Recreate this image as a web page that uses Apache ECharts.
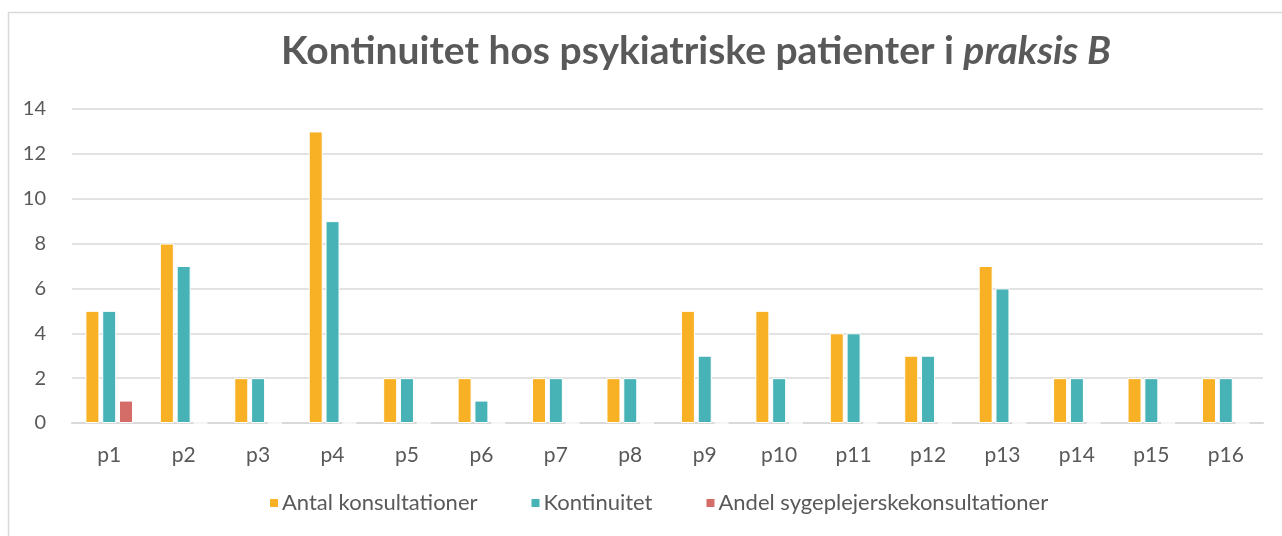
<!DOCTYPE html>
<html>
<head>
<meta charset="utf-8">
<script src="https://cdn.jsdelivr.net/npm/echarts@6/dist/echarts.min.js"></script>
<style>
    html, body { margin: 0; padding: 0; background: #ffffff; }
    #chart { width: 1282px; height: 536px; }
</style>
</head>
<body>
<div id="chart"></div>
<script>
// data
const categories = ['p1', 'p2', 'p3', 'p4', 'p5', 'p6', 'p7', 'p8', 'p9', 'p10', 'p11', 'p12', 'p13', 'p14', 'p15', 'p16'];
const antal = [5, 8, 2, 13, 2, 2, 2, 2, 5, 5, 4, 3, 7, 2, 2, 2];
const kontinuitet = [5, 7, 2, 9, 2, 1, 2, 2, 3, 2, 4, 3, 6, 2, 2, 2];
const andel = [1, 0, 0, 0, 0, 0, 0, 0, 0, 0, 0, 0, 0, 0, 0, 0];
const seriesNames = ['Antal konsultationer', 'Kontinuitet', 'Andel sygeplejerskekonsultationer'];

const font = 'Lato, "Open Sans", sans-serif';
const grey = '#595959';

const chart = echarts.init(document.getElementById('chart'));

function bar(name, data, color) {
    return {
        name: name,
        type: 'bar',
        data: data,
        barWidth: 14,
        barGap: '20%',
        itemStyle: {
            color: color,
            borderColor: '#ffffff',
            borderWidth: 1
        }
    };
}

chart.setOption({
    animation: false,
    title: {
        text: 'Kontinuitet hos psykiatriske patienter i {i|praksis B}',
        left: 691,
        top: 27,
        textAlign: 'center',
        textStyle: {
            fontFamily: font,
            fontSize: 39,
            fontWeight: 'bold',
            color: grey,
            rich: {
                i: {
                    fontFamily: font,
                    fontSize: 39,
                    fontWeight: 'bold',
                    fontStyle: 'italic',
                    color: grey
                }
            }
        }
    },
    // thin frame round the chart, as in the picture
    graphic: [{
        type: 'rect',
        shape: { x: 8.5, y: 12.5, width: 1400, height: 700 },
        style: { fill: 'none', stroke: '#d9d9d9', lineWidth: 1.5 },
        silent: true
    }],
    legend: {
        data: seriesNames,
        bottom: 17,
        left: 263,
        itemWidth: 10,
        itemHeight: 10,
        itemGap: 52,
        icon: 'rect',
        textStyle: { fontFamily: font, fontSize: 22, color: grey, padding: [0, 0, 0, -2] }
    },
    grid: {
        left: 72,
        right: 19,
        top: 109,
        bottom: 113,
        containLabel: false
    },
    xAxis: {
        type: 'category',
        data: categories,
        axisLine: { lineStyle: { color: '#d9d9d9', width: 2 } },
        axisTick: { show: false },
        axisLabel: { fontFamily: font, fontSize: 21, color: grey, margin: 22 }
    },
    yAxis: {
        type: 'value',
        min: 0,
        max: 14,
        interval: 2,
        axisLine: { show: false },
        axisTick: { show: false },
        splitLine: { lineStyle: { color: '#d9d9d9', width: 1.5 } },
        axisLabel: { fontFamily: font, fontSize: 20, color: grey, margin: 26 }
    },
    series: [
        bar(seriesNames[0], antal, '#F8B125'),
        bar(seriesNames[1], kontinuitet, '#47B3B6'),
        bar(seriesNames[2], andel, '#D46C67')
    ]
});
</script>
</body>
</html>
